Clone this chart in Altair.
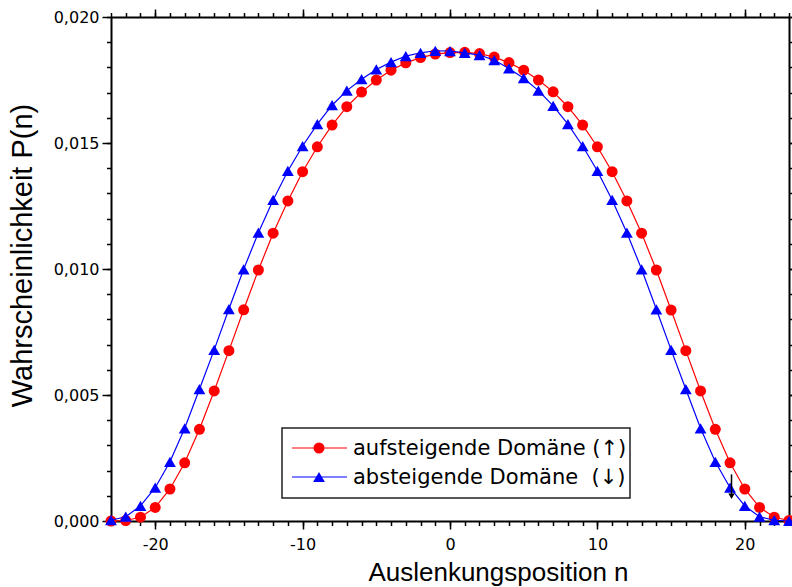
import altair as alt
import pandas as pd

# Auslenkungsposition n and probabilities P(n) for both domain types
positions = list(range(-23, 24))

aufsteigend = [
    0.00000, 0.00002, 0.00015, 0.00054, 0.00127, 0.00231, 0.00364, 0.00516,
    0.00676, 0.00838, 0.00996, 0.01142, 0.01270, 0.01386, 0.01485, 0.01571,
    0.01644, 0.01702, 0.01750, 0.01789, 0.01818, 0.01839, 0.01853, 0.01859,
    0.01860, 0.01855, 0.01841, 0.01819, 0.01789, 0.01750, 0.01703, 0.01644,
    0.01571, 0.01485, 0.01386, 0.01270, 0.01142, 0.00996, 0.00837, 0.00676,
    0.00516, 0.00364, 0.00231, 0.00127, 0.00054, 0.00015, 0.00002,
]

absteigend = [
    0.00003, 0.00017, 0.00060, 0.00132, 0.00235, 0.00368, 0.00523, 0.00679,
    0.00841, 0.00999, 0.01144, 0.01274, 0.01389, 0.01488, 0.01575, 0.01650,
    0.01708, 0.01753, 0.01792, 0.01821, 0.01845, 0.01858, 0.01866, 0.01865,
    0.01858, 0.01849, 0.01829, 0.01796, 0.01757, 0.01708, 0.01647, 0.01575,
    0.01488, 0.01389, 0.01274, 0.01144, 0.00999, 0.00840, 0.00679, 0.00523,
    0.00368, 0.00235, 0.00132, 0.00060, 0.00017, 0.00003, 0.00000,
]

series_labels = ["aufsteigende Domäne (↑)", "absteigende Domäne \u00a0(↓)"]
series_colors = ["#ff0000", "#0000ff"]

# tick positions
x_major = [-20, -10, 0, 10, 20]
x_minor = list(range(-23, 24))
y_major = [0.0, 0.005, 0.010, 0.015, 0.020]
y_minor = [round(0.001 * k, 3) for k in range(21)]

# small arrow marker near n = 19
arrow_n = [19.1]
arrow_top = [0.00185]
arrow_tip = [0.00098]

up = pd.DataFrame({"n": positions, "p": aufsteigend})
down = pd.DataFrame({"n": positions, "p": absteigend})
arrow = pd.DataFrame({"n": arrow_n, "top": arrow_top, "tip": arrow_tip})
one = pd.DataFrame({"k": [0]})

xscale = alt.Scale(domain=[-23, 23], nice=False, zero=False)
yscale = alt.Scale(domain=[0, 0.02], nice=False, zero=False)

common = dict(grid=False, tickColor="black", tickWidth=1.5,
              domainColor="black", domainWidth=2, labelColor="black")


def plain_axis(orient, values, size, domain):
    return alt.Axis(orient=orient, values=values, tickSize=size, labels=False,
                    title=None, domain=domain, **common)


x_bottom = alt.Axis(
    orient="bottom", values=x_major, tickSize=8, labels=True,
    labelExpr="'' + datum.value", labelFont="DejaVu Sans", labelFontSize=16,
    labelPadding=7, labelFlush=False, labelOverlap=False,
    title="Auslenkungsposition n", titleFont="Liberation Sans",
    titleFontSize=26, titleFontWeight="normal", titleColor="black",
    titleX=387, titleY=59, titleAlign="center", titleBaseline="alphabetic",
    domain=True, **common)

y_left = alt.Axis(
    orient="left", values=y_major, tickSize=9, labels=True,
    labelExpr="replace(format(datum.value, '.3f'), '.', ',')",
    labelFont="DejaVu Sans", labelFontSize=16, labelPadding=3,
    labelFlush=False, labelOverlap=False,
    title="Wahrscheinlichkeit P(n)", titleFont="Liberation Sans",
    titleFontSize=29, titleFontWeight="normal", titleColor="black",
    titleAngle=-90, titleX=-80, titleY=238, titleAlign="center",
    titleBaseline="alphabetic", domain=True, **common)

red_line = alt.Chart(up).mark_line(color=series_colors[0], strokeWidth=1.2).encode(
    x=alt.X("n:Q", scale=xscale, axis=x_bottom),
    y=alt.Y("p:Q", scale=yscale, axis=y_left),
)
red_pts = alt.Chart(up).mark_point(shape="circle", filled=True, size=121,
                                   color=series_colors[0], opacity=1).encode(
    x=alt.X("n:Q", scale=xscale, axis=plain_axis("bottom", x_minor, 4.5, False)),
    y=alt.Y("p:Q", scale=yscale, axis=plain_axis("left", y_minor, 4.5, False)),
)
blue_line = alt.Chart(down).mark_line(color=series_colors[1], strokeWidth=1.2).encode(
    x=alt.X("n:Q", scale=xscale, axis=plain_axis("top", x_major, 8, True)),
    y=alt.Y("p:Q", scale=yscale, axis=plain_axis("right", y_major, 9, True)),
)
blue_pts = alt.Chart(down).mark_point(shape="triangle-up", filled=True, size=140,
                                      color=series_colors[1], opacity=1).encode(
    x=alt.X("n:Q", scale=xscale, axis=plain_axis("top", x_minor, 4.5, False)),
    y=alt.Y("p:Q", scale=yscale, axis=plain_axis("right", y_minor, 4.5, False)),
)

arrow_shaft = alt.Chart(arrow).mark_rule(color="black", strokeWidth=1.5).encode(
    x=alt.X("n:Q", scale=xscale, axis=None),
    y=alt.Y("top:Q", scale=yscale, axis=None),
    y2="tip:Q",
)
arrow_head = alt.Chart(arrow).mark_point(shape="triangle-down", filled=True,
                                         size=40, color="black", opacity=1).encode(
    x=alt.X("n:Q", scale=xscale, axis=None),
    y=alt.Y("tip:Q", scale=yscale, axis=None),
)

# legend box
legend_box = alt.Chart(one).mark_rect(fill="white", stroke="#222222",
                                      strokeWidth=1.5).encode(
    x=alt.value(171), x2=alt.value(519), y=alt.value(411), y2=alt.value(481))

legend_layers = [legend_box]
for i, (label, col, shape, size) in enumerate(
        zip(series_labels, series_colors, ["circle", "triangle-up"], [121, 140])):
    row_y = 431 + 29 * i
    legend_layers.append(alt.Chart(one).mark_rule(color=col, strokeWidth=1.2).encode(
        x=alt.value(181), x2=alt.value(236), y=alt.value(row_y)))
    legend_layers.append(alt.Chart(one).mark_point(
        shape=shape, filled=True, size=size, color=col, opacity=1).encode(
        x=alt.value(208), y=alt.value(row_y)))
    legend_layers.append(alt.Chart(one).mark_text(
        text=label, align="left", baseline="middle", font="DejaVu Sans",
        fontSize=21, color="black").encode(
        x=alt.value(242), y=alt.value(row_y + 1)))

chart = alt.layer(
    red_line, red_pts, blue_line, blue_pts, arrow_shaft, arrow_head, *legend_layers
).resolve_axis(x="independent", y="independent").properties(
    width=678, height=504,
    padding={"left": 111, "top": 17, "right": 3, "bottom": 66},
    autosize=alt.AutoSizeParams(type="none"),
    background="white",
).configure_view(stroke=None)

chart.save("out.html", embed_options={"renderer": "svg", "actions": False})
